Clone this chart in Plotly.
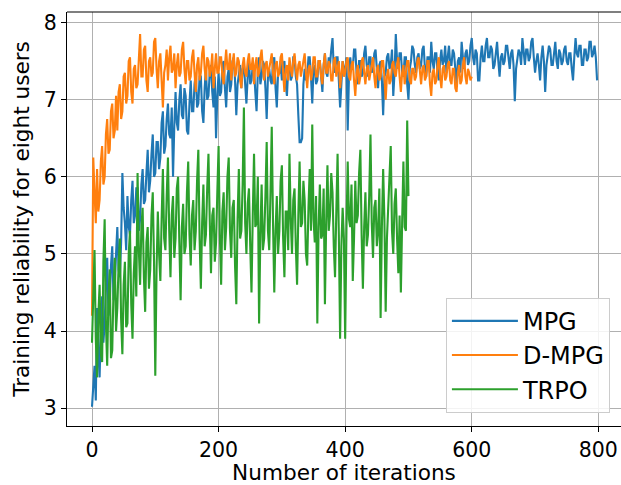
import plotly.graph_objects as go

mpg_iter = list(range(0, 800, 2))
mpg = [
    3.02, 3.30, 3.55, 3.10, 4.30, 3.75, 3.40, 4.05, 4.45, 3.85, 4.10, 4.60, 4.95, 4.20, 4.35, 4.85, 5.10, 4.40, 4.60, 5.00,
    5.35, 4.80, 4.70, 5.15, 6.05, 5.60, 5.40, 5.05, 5.75, 5.35, 5.25, 5.70, 5.95, 5.40, 5.50, 5.85, 5.85, 5.30, 5.45, 5.90,
    6.10, 5.65, 5.70, 6.05, 6.35, 5.80, 5.95, 6.30, 6.55, 6.00, 6.05, 6.45, 6.45, 6.10, 6.25, 6.70, 6.85, 6.30, 6.40, 6.75,
    6.95, 6.55, 6.50, 6.90, 6.00, 6.65, 7.10, 6.70, 6.60, 7.00, 7.20, 6.80, 6.75, 7.15, 7.05, 6.60, 6.55, 6.95, 7.25, 6.85,
    6.85, 7.20, 7.35, 6.90, 6.95, 7.30, 7.30, 6.85, 6.70, 7.15, 7.40, 7.00, 7.05, 7.35, 7.45, 7.10, 6.90, 7.30, 6.50, 7.05,
    7.35, 7.05, 7.10, 7.45, 7.50, 7.15, 6.90, 7.30, 7.40, 7.10, 7.20, 7.50, 7.55, 7.25, 6.80, 7.20, 7.35, 7.45, 7.15, 7.40,
    7.45, 7.15, 6.95, 7.30, 7.50, 7.20, 7.25, 7.45, 7.40, 7.10, 6.85, 7.35, 7.55, 7.20, 7.30, 7.50, 7.45, 7.15, 6.75, 7.30,
    7.40, 7.25, 7.20, 7.50, 7.55, 7.15, 6.90, 7.35, 7.35, 7.50, 7.25, 7.45, 7.50, 7.20, 7.05, 7.40, 7.45, 7.25, 7.30, 7.55,
    7.55, 7.30, 7.20, 6.80, 6.45, 6.45, 6.50, 7.20, 7.40, 7.25, 7.30, 7.55, 7.55, 7.30, 6.95, 7.40, 7.45, 7.20, 7.25, 7.50,
    7.50, 7.30, 7.10, 7.45, 7.60, 7.35, 7.30, 7.55, 7.45, 7.65, 7.80, 7.40, 7.35, 7.55, 7.55, 7.25, 6.90, 7.20, 7.50, 7.40,
    7.35, 7.55, 6.60, 7.30, 7.55, 7.40, 7.40, 7.65, 7.65, 7.35, 7.20, 7.50, 7.50, 7.30, 7.35, 7.60, 7.70, 7.45, 7.30, 7.55,
    7.55, 7.35, 7.40, 7.60, 7.65, 7.40, 7.15, 7.45, 7.50, 7.25, 6.80, 7.30, 7.35, 7.55, 7.60, 7.40, 7.45, 7.65, 7.05, 7.35,
    7.85, 7.50, 7.40, 7.60, 7.60, 7.35, 7.30, 7.55, 7.55, 7.20, 7.00, 7.40, 7.50, 7.70, 7.65, 7.45, 7.35, 7.55, 7.60, 7.40,
    7.45, 7.65, 7.70, 7.40, 7.30, 7.55, 7.55, 7.35, 7.75, 7.50, 7.40, 7.60, 7.60, 7.35, 7.25, 7.50, 7.65, 7.45, 7.50, 7.70,
    7.35, 7.55, 7.70, 7.45, 7.45, 7.65, 7.60, 7.40, 7.20, 7.50, 7.55, 7.35, 7.75, 7.55, 7.40, 7.60, 7.65, 7.45, 7.50, 7.70,
    7.80, 7.55, 7.45, 7.65, 7.60, 7.25, 7.25, 7.55, 7.70, 7.50, 7.50, 7.70, 7.80, 7.55, 7.55, 7.70, 7.65, 7.40, 7.45, 7.60,
    7.75, 7.50, 7.30, 7.55, 7.60, 7.45, 7.50, 7.70, 7.70, 7.55, 7.40, 7.60, 7.65, 7.45, 6.98, 7.40, 7.55, 7.65, 7.60, 7.45,
    7.80, 7.60, 7.45, 7.65, 7.65, 7.50, 7.55, 7.75, 7.80, 7.55, 7.35, 7.50, 7.60, 7.45, 7.25, 7.55, 7.70, 7.50, 7.10, 7.45,
    7.55, 7.70, 7.65, 7.45, 7.45, 7.60, 7.75, 7.50, 7.40, 7.65, 7.60, 7.45, 7.50, 7.65, 7.70, 7.50, 7.45, 7.60, 7.60, 7.40,
    7.25, 7.55, 7.80, 7.60, 7.55, 7.70, 7.70, 7.45, 7.45, 7.65, 7.65, 7.50, 7.55, 7.75, 7.75, 7.55, 7.60, 7.70, 7.55, 7.25,
]

dmpg_iter = list(range(0, 602, 2))
dmpg = [
    4.20, 6.25, 5.80, 5.40, 6.10, 5.55, 5.70, 6.20, 6.40, 5.90, 6.00, 6.55, 6.75, 6.30, 6.35, 6.85, 6.95, 6.50, 6.60, 7.05,
    6.60, 7.10, 7.20, 6.75, 6.85, 7.30, 7.35, 6.95, 7.05, 7.50, 7.55, 7.10, 6.95, 7.40, 7.45, 7.15, 7.20, 7.60, 7.85, 7.30,
    7.30, 7.65, 7.70, 7.25, 7.10, 7.50, 7.55, 7.30, 7.35, 7.75, 7.80, 7.40, 7.15, 7.50, 7.60, 7.25, 6.90, 7.35, 7.45, 7.65,
    7.25, 7.55, 7.70, 7.35, 7.40, 7.60, 7.15, 7.45, 7.60, 7.30, 7.35, 7.65, 7.75, 7.40, 7.20, 7.50, 7.50, 7.25, 7.30, 7.55,
    7.65, 7.35, 7.10, 7.45, 7.55, 7.25, 7.35, 7.60, 7.70, 7.40, 7.25, 7.55, 7.50, 7.30, 7.40, 7.60, 7.15, 7.40, 7.60, 7.35,
    7.35, 7.55, 7.55, 7.30, 7.20, 7.45, 7.65, 7.40, 7.40, 7.60, 7.25, 7.45, 7.60, 7.30, 7.35, 7.55, 7.50, 7.25, 7.15, 7.45,
    7.55, 7.35, 7.30, 7.50, 7.60, 7.40, 7.40, 7.55, 7.20, 7.45, 7.55, 7.30, 7.35, 7.55, 7.65, 7.40, 7.25, 7.45, 7.50, 7.30,
    7.40, 7.55, 7.60, 7.35, 7.20, 7.45, 7.50, 7.30, 7.35, 7.55, 7.60, 7.35, 7.10, 7.40, 7.45, 7.25, 7.55, 7.40, 7.30, 7.50,
    7.60, 7.40, 7.25, 7.45, 7.50, 7.30, 7.40, 7.55, 7.60, 7.35, 7.15, 7.40, 7.45, 7.25, 7.35, 7.55, 7.55, 7.30, 7.30, 7.50,
    7.50, 7.30, 7.20, 7.45, 7.60, 7.35, 7.35, 7.50, 7.45, 7.25, 7.25, 7.50, 7.55, 7.30, 7.40, 7.50, 7.15, 7.35, 7.50, 7.30,
    7.35, 7.50, 7.55, 7.30, 7.25, 7.45, 7.50, 7.25, 7.05, 7.35, 7.45, 7.20, 7.30, 7.50, 7.55, 7.35, 7.20, 7.40, 7.45, 7.25,
    7.35, 7.50, 7.55, 7.30, 7.15, 7.40, 7.45, 7.25, 7.30, 7.50, 7.50, 7.30, 7.00, 7.30, 7.40, 7.20, 7.25, 7.45, 7.50, 7.35,
    7.30, 7.45, 7.55, 7.30, 7.10, 7.35, 7.45, 7.20, 7.35, 7.50, 7.50, 7.25, 7.20, 7.40, 7.40, 7.25, 7.30, 7.50, 7.55, 7.30,
    7.20, 7.40, 7.45, 7.25, 7.30, 7.50, 7.50, 7.20, 7.05, 7.35, 7.40, 7.20, 7.25, 7.45, 7.55, 7.30, 7.15, 7.40, 7.45, 7.25,
    7.30, 7.45, 7.50, 7.25, 7.20, 7.40, 7.40, 7.15, 7.10, 7.35, 7.45, 7.20, 7.25, 7.45, 7.55, 7.30, 7.20, 7.40, 7.35, 7.25,
    7.30,
]

trpo_iter = list(range(0, 502, 2))
trpo = [
    3.85, 4.40, 5.05, 3.90, 3.40, 4.20, 4.60, 3.70, 3.60, 4.90, 5.45, 4.10, 3.55, 4.45, 4.80, 3.65, 3.75, 4.55, 4.95, 4.00,
    4.30, 4.85, 5.20, 4.15, 3.70, 4.60, 4.90, 4.05, 4.10, 5.00, 5.30, 4.35, 3.90, 4.75, 5.10, 4.45, 6.05, 5.05, 4.60, 5.35,
    5.60, 4.70, 4.25, 5.15, 5.35, 4.55, 4.80, 5.50, 5.80, 4.90, 3.42, 4.80, 5.55, 5.00, 4.65, 5.45, 6.10, 5.20, 5.05, 5.75,
    6.25, 5.30, 4.70, 5.50, 5.75, 4.95, 5.20, 5.85, 6.00, 5.15, 4.40, 5.35, 5.65, 5.00, 5.10, 5.80, 6.20, 5.25, 4.85, 5.50,
    5.70, 5.05, 5.30, 5.95, 6.35, 5.20, 4.55, 5.40, 5.90, 5.10, 5.25, 5.85, 6.30, 5.45, 4.75, 5.50, 5.60, 4.90, 5.15, 5.80,
    6.40, 5.25, 4.60, 5.55, 5.80, 5.05, 5.35, 6.00, 6.25, 5.30, 4.95, 5.60, 5.70, 4.85, 4.35, 5.45, 6.10, 5.20, 5.30, 5.90,
    6.90, 5.40, 5.00, 5.65, 5.85, 5.10, 4.50, 5.50, 6.30, 5.35, 5.40, 6.00, 4.10, 5.25, 5.90, 5.05, 5.20, 5.75, 6.45, 5.30,
    5.05, 5.80, 6.65, 5.40, 4.50, 5.30, 5.75, 5.00, 5.30, 5.95, 6.15, 5.20, 4.70, 5.55, 5.55, 5.05, 6.30, 5.45, 5.00, 5.70,
    5.85, 5.10, 4.60, 5.50, 6.20, 5.35, 5.40, 5.95, 5.70, 5.00, 4.85, 5.60, 6.10, 5.30, 6.68, 5.45, 5.15, 5.75, 4.10, 5.35,
    5.90, 5.20, 5.25, 5.85, 4.35, 5.40, 6.15, 5.30, 5.50, 6.05, 5.80, 5.10, 4.70, 5.55, 6.30, 5.25, 3.90, 5.10, 5.60, 5.20,
    3.90, 5.30, 6.20, 5.45, 5.35, 5.90, 4.65, 5.20, 5.95, 5.40, 5.50, 6.05, 6.35, 5.25, 4.55, 5.35, 5.80, 5.10, 5.25, 5.75,
    6.55, 5.40, 4.95, 5.60, 5.70, 5.10, 5.30, 5.85, 4.17, 5.35, 6.10, 5.45, 4.25, 5.20, 5.55, 6.00, 6.40, 5.30, 5.00, 5.65,
    5.85, 5.20, 4.75, 5.50, 4.50, 5.40, 6.20, 5.35, 5.30, 6.73, 5.75,
]

names = ["MPG", "D-MPG", "TRPO"]
colors = ["#1f77b4", "#ff7f0e", "#2ca02c"]
x_ticks = [0, 200, 400, 600, 800]
y_ticks = [3, 4, 5, 6, 7, 8]

FONT = "DejaVu Sans"

fig = go.Figure()
for xs, ys, nm, col in zip([mpg_iter, dmpg_iter, trpo_iter], [mpg, dmpg, trpo], names, colors):
    fig.add_trace(go.Scatter(x=xs, y=ys, mode="lines", name=nm,
                             line=dict(color=col, width=2.1)))

axis_common = dict(
    showgrid=True, gridcolor="#b0b0b0", gridwidth=1.1,
    showline=True, linecolor="black", linewidth=1.1,
    ticks="outside", ticklen=5, tickwidth=1.1, tickcolor="black",
    tickfont=dict(family=FONT, size=20.5, color="black"),
    zeroline=False,
)

fig.update_layout(
    width=621, height=485,
    margin=dict(l=67, r=0, t=12, b=59),
    paper_bgcolor="white", plot_bgcolor="white",
    font=dict(family=FONT, size=20.5, color="black"),
    xaxis=dict(range=[-39.5, 835.8], tickvals=x_ticks,
               title=dict(text="Number of iterations", font=dict(family=FONT, size=21.6), standoff=4),
               **axis_common),
    yaxis=dict(range=[2.77, 8.137], tickvals=y_ticks,
               title=dict(text="Training reliability for eight users", font=dict(family=FONT, size=21.6), standoff=8),
               **axis_common),
    legend=dict(x=0.98, y=0.032, xanchor="right", yanchor="bottom",
                bgcolor="rgba(255,255,255,0.85)", bordercolor="#cccccc", borderwidth=1,
                font=dict(family=FONT, size=24), itemwidth=66),
    showlegend=True,
)

# top spine
fig.add_shape(type="line", xref="paper", yref="paper", x0=0, x1=1, y0=1, y1=1,
              line=dict(color="black", width=1.1))

fig.write_html("out.html")
